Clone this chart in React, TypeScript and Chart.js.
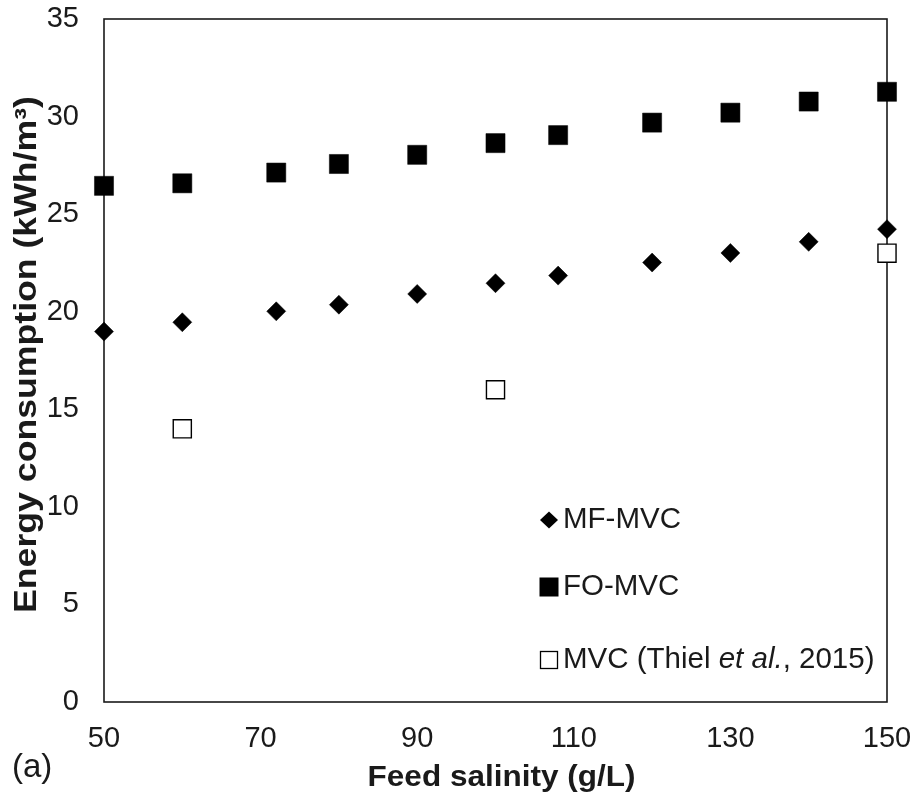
import React, { useEffect, useRef } from "react";
import { Chart, registerables } from "chart.js";

Chart.register(...registerables);

const salinityModel: number[] = [50, 60, 72, 80, 90, 100, 108, 120, 130, 140, 150];
const mfMvc: number[] = [18.98, 19.46, 20.02, 20.36, 20.91, 21.46, 21.85, 22.52, 23.01, 23.58, 24.23];
const foMvc: number[] = [26.45, 26.58, 27.13, 27.57, 28.04, 28.64, 29.05, 29.69, 30.2, 30.77, 31.27];
const salinityThiel: number[] = [60, 100, 150];
const mvcThiel: number[] = [14, 16, 23];

const seriesLabels: string[] = ["MF-MVC", "FO-MVC", "MVC (Thiel et al., 2015)"];
const xTitle = "Feed salinity (g/L)";
const yTitle = "Energy consumption (kWh/m³)";
const panelLabel = "(a)";

const FONT = "'Liberation Sans', Arial, sans-serif";
const TEXT = "#1a1a1a";

const boxPlugin = {
  id: "plotBox",
  beforeDatasetsDraw(chart: any) {
    const { ctx, chartArea } = chart;
    ctx.save();
    ctx.strokeStyle = TEXT;
    ctx.lineWidth = 1.6;
    ctx.strokeRect(chartArea.left, chartArea.top, chartArea.right - chartArea.left, chartArea.bottom - chartArea.top);
    ctx.restore();
  },
};

const titlesPlugin = {
  id: "axisTitles",
  afterDraw(chart: any) {
    const { ctx, chartArea } = chart;
    ctx.save();
    ctx.fillStyle = TEXT;
    ctx.textAlign = "center";
    ctx.textBaseline = "middle";
    // y title (rotated, slightly stretched along its length)
    ctx.save();
    ctx.translate(27, (chartArea.top + chartArea.bottom) / 2 - 6);
    ctx.rotate(-Math.PI / 2);
    ctx.scale(1.15, 1);
    ctx.font = `bold 31px ${FONT}`;
    ctx.fillText(yTitle, 0, 0);
    ctx.restore();
    // x title
    ctx.save();
    ctx.translate((chartArea.left + chartArea.right) / 2 + 6, 778);
    ctx.scale(1.05, 1);
    ctx.font = `bold 30px ${FONT}`;
    ctx.fillText(xTitle, 0, 0);
    ctx.restore();
    ctx.restore();
  },
};

const legendPlugin = {
  id: "customLegend",
  afterDatasetsDraw(chart: any) {
    const { ctx } = chart;
    ctx.save();
    const mx = 549;
    const tx = 563;
    const rows = [520, 587, 660];
    ctx.fillStyle = "#000";
    ctx.beginPath();
    ctx.moveTo(mx - 9, rows[0]);
    ctx.lineTo(mx, rows[0] - 8.5);
    ctx.lineTo(mx + 9, rows[0]);
    ctx.lineTo(mx, rows[0] + 8.5);
    ctx.closePath();
    ctx.fill();
    ctx.fillRect(mx - 9.5, rows[1] - 9.5, 19, 19);
    ctx.fillStyle = "#fff";
    ctx.fillRect(mx - 8.5, rows[2] - 8.5, 17, 17);
    ctx.strokeStyle = "#000";
    ctx.lineWidth = 1.3;
    ctx.strokeRect(mx - 8.5, rows[2] - 8.5, 17, 17);

    ctx.fillStyle = TEXT;
    ctx.textBaseline = "middle";
    ctx.textAlign = "left";
    const size = 29.5;
    ctx.font = `${size}px ${FONT}`;
    ctx.fillText(seriesLabels[0], tx, rows[0]);
    ctx.fillText(seriesLabels[1], tx, rows[1]);
    const parts = [
      { t: "MVC (Thiel ", italic: false },
      { t: "et al.", italic: true },
      { t: ", 2015)", italic: false },
    ];
    let x = tx;
    for (const p of parts) {
      ctx.font = `${p.italic ? "italic " : ""}${size}px ${FONT}`;
      ctx.fillText(p.t, x, rows[2]);
      x += ctx.measureText(p.t).width;
    }
    ctx.font = `33px ${FONT}`;
    ctx.fillText(panelLabel, 12, 768);
    ctx.restore();
  },
};

export default function App() {
  const ref = useRef<HTMLCanvasElement | null>(null);
  useEffect(() => {
    document.body.style.margin = "0";
    if (!ref.current) return;
    const chart = new Chart(ref.current, {
      type: "scatter",
      data: {
        datasets: [
          {
            label: seriesLabels[0],
            data: salinityModel.map((x, i) => ({ x, y: mfMvc[i] })),
            pointStyle: "rectRot",
            pointRadius: 9.5,
            pointBackgroundColor: "#000",
            pointBorderColor: "#000",
            pointBorderWidth: 0.5,
            clip: false,
          },
          {
            label: seriesLabels[1],
            data: salinityModel.map((x, i) => ({ x, y: foMvc[i] })),
            pointStyle: "rect",
            pointRadius: 13.5,
            pointBackgroundColor: "#000",
            pointBorderColor: "#000",
            pointBorderWidth: 0.5,
            clip: false,
          },
          {
            label: seriesLabels[2],
            data: salinityThiel.map((x, i) => ({ x, y: mvcThiel[i] })),
            pointStyle: "rect",
            pointRadius: 12.8,
            pointBackgroundColor: "#fff",
            pointBorderColor: "#000",
            pointBorderWidth: 1.4,
            clip: false,
          },
        ] as any,
      },
      options: {
        responsive: false,
        animation: false,
        events: [],
        layout: { padding: { left: 0, right: 30, top: 19, bottom: 0 } },
        plugins: { legend: { display: false }, tooltip: { enabled: false } },
        scales: {
          x: {
            type: "linear",
            min: 50,
            max: 150,
            ticks: {
              stepSize: 20,
              padding: 20,
              color: TEXT,
              font: { family: FONT, size: 29 },
            },
            grid: { display: false, drawTicks: false },
            border: { display: false },
            title: { display: false, text: xTitle },
            afterFit(scale: any) {
              scale.height = 98;
              scale.paddingLeft = 0;
              scale.paddingRight = 0;
            },
          },
          y: {
            type: "linear",
            min: 0,
            max: 35,
            ticks: {
              stepSize: 5,
              padding: 25,
              color: TEXT,
              font: { family: FONT, size: 29 },
            },
            grid: { display: false, drawTicks: false },
            border: { display: false },
            title: { display: false, text: yTitle },
            afterFit(scale: any) {
              scale.width = 104;
              scale.paddingTop = 0;
              scale.paddingBottom = 0;
            },
          },
        },
      } as any,
      plugins: [boxPlugin, legendPlugin, titlesPlugin],
    });
    return () => chart.destroy();
  }, []);
  return <canvas ref={ref} width={917} height={800} style={{ display: "block" }} />;
}
